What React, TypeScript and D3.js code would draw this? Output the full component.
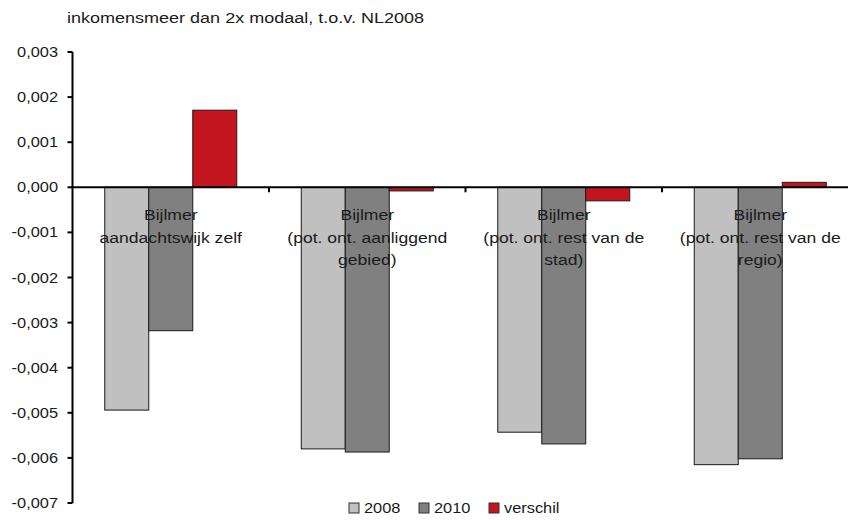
import React from "react";
import * as d3 from "d3";

const categories = ["aandachtswijk", "aanliggend", "stad", "regio"];
const categoryLabels: string[][] = [
  ["Bijlmer", "aandachtswijk zelf"],
  ["Bijlmer", "(pot. ont. aanliggend", "gebied)"],
  ["Bijlmer", "(pot. ont. rest van de", "stad)"],
  ["Bijlmer", "(pot. ont. rest van de", "regio)"],
];
const seriesNames = ["2008", "2010", "verschil"];
const values2008 = [-0.00494, -0.00580, -0.00543, -0.00615];
const values2010 = [-0.00318, -0.00587, -0.00569, -0.00602];
const valuesVerschil = [0.00171, -0.00008, -0.00030, 0.00011];
const seriesColors = ["#C0C0C0", "#808080", "#C3161F"];
const yTicks = [0.003, 0.002, 0.001, 0, -0.001, -0.002, -0.003, -0.004, -0.005, -0.006, -0.007];
const title = "inkomensmeer dan 2x modaal, t.o.v. NL2008";

const W = 851;
const H = 520;
const SX = 1.17;
const FONT = "'Liberation Sans', Arial, sans-serif";

function SText({ x, y, anchor = "start", size = 14, children }: any) {
  return (
    <text
      transform={`translate(${x},${y}) scale(${SX},1)`}
      textAnchor={anchor}
      fontSize={size}
      fontFamily={FONT}
      fill="#1a1a1a"
    >
      {children}
    </text>
  );
}

export default function App() {
  const series = [values2008, values2010, valuesVerschil];
  const x0 = 72.5;
  const band = 196.5;
  const x = d3.scaleBand<string>().domain(categories).range([x0, x0 + band * categories.length]).padding(0);
  const x1 = d3.scaleBand<string>().domain(seriesNames).range([32.25, band - 32.25]).padding(0);
  const y = d3.scaleLinear().domain([-0.007, 0.003]).range([503, 52]);
  const fmt = (v: number) => d3.format(".3f")(v).replace(".", ",").replace("−", "-");

  return (
    <svg width={W} height={H} style={{ position: "absolute", left: 0, top: 0, background: "#fff" }}>
      <rect x={0} y={0} width={W} height={H} fill="#fff" />
      <SText x={67} y={23} size={15.4}>{title}</SText>

      {/* bars */}
      {categories.map((c, ci) =>
        seriesNames.map((s, si) => {
          const v = series[si][ci];
          const y0 = y(0);
          const yv = y(v);
          return (
            <rect
              key={c + s}
              x={(x(c) as number) + (x1(s) as number)}
              y={Math.min(y0, yv)}
              width={x1.bandwidth()}
              height={Math.abs(yv - y0)}
              fill={seriesColors[si]}
              stroke="#1a1a1a"
              strokeWidth={1}
            />
          );
        })
      )}

      {/* y axis */}
      <line x1={x0} x2={x0} y1={y(0.003)} y2={y(-0.007)} stroke="#000" strokeWidth={2} />
      {yTicks.map((t) => (
        <g key={t}>
          <line x1={x0 - 5} x2={x0} y1={y(t)} y2={y(t)} stroke="#000" strokeWidth={2} />
          <SText x={58} y={y(t) + 5} anchor="end" size={14}>{fmt(t)}</SText>
        </g>
      ))}

      {/* x axis */}
      <line x1={x0} x2={848} y1={y(0)} y2={y(0)} stroke="#000" strokeWidth={2} />
      {categories.slice(1).map((c) => (
        <line key={c} x1={x(c) as number} x2={x(c) as number} y1={y(0)} y2={y(0) + 5} stroke="#000" strokeWidth={2} />
      ))}

      {/* category labels */}
      {categories.map((c, ci) =>
        categoryLabels[ci].map((line, li) => (
          <SText key={c + li} x={(x(c) as number) + x.bandwidth() / 2} y={220 + li * 22.5} anchor="middle" size={15}>
            {line}
          </SText>
        ))
      )}

      {/* legend */}
      {seriesNames.map((s, i) => {
        const lx = 349 + i * 70;
        return (
          <g key={s}>
            <rect x={lx} y={503} width={10} height={10} fill={seriesColors[i]} stroke="#333" strokeWidth={1} />
            <SText x={lx + 15} y={513} size={14}>{s}</SText>
          </g>
        );
      })}
    </svg>
  );
}
